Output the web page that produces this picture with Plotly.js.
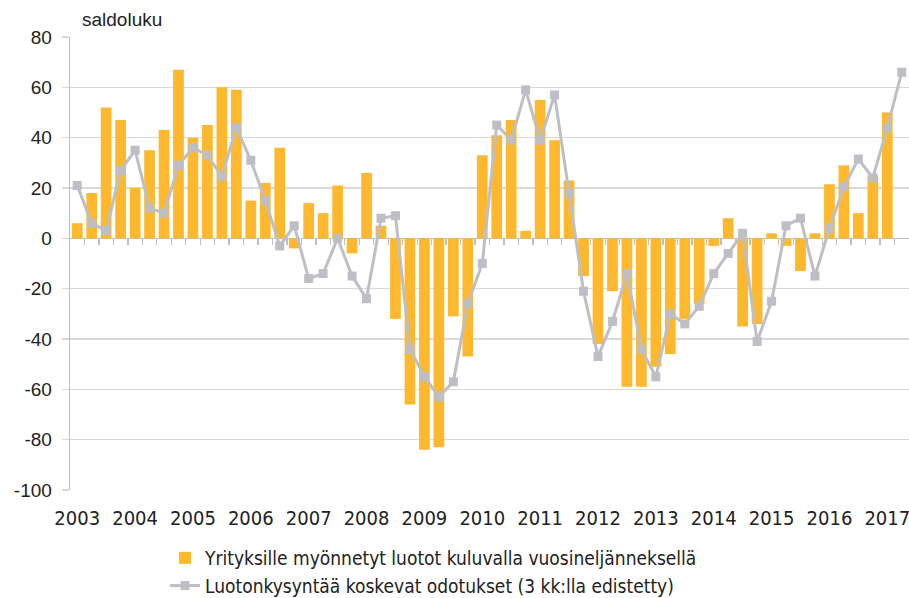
<!DOCTYPE html>
<html>
<head>
<meta charset="utf-8">
<script src="https://cdn.plot.ly/plotly-3.0.1.min.js"></script>
<style>html,body{margin:0;padding:0;background:#fff}#chart{width:909px;height:598px}</style>
</head>
<body>
<div id="chart"></div>
<script>
const quarters = [
 '2003Q1','2003Q2','2003Q3','2003Q4','2004Q1','2004Q2','2004Q3','2004Q4',
 '2005Q1','2005Q2','2005Q3','2005Q4','2006Q1','2006Q2','2006Q3','2006Q4',
 '2007Q1','2007Q2','2007Q3','2007Q4','2008Q1','2008Q2','2008Q3','2008Q4',
 '2009Q1','2009Q2','2009Q3','2009Q4','2010Q1','2010Q2','2010Q3','2010Q4',
 '2011Q1','2011Q2','2011Q3','2011Q4','2012Q1','2012Q2','2012Q3','2012Q4',
 '2013Q1','2013Q2','2013Q3','2013Q4','2014Q1','2014Q2','2014Q3','2014Q4',
 '2015Q1','2015Q2','2015Q3','2015Q4','2016Q1','2016Q2','2016Q3','2016Q4',
 '2017Q1','2017Q2'
];
const years = ['2003','2004','2005','2006','2007','2008','2009','2010','2011','2012','2013','2014','2015','2016','2017'];
const yTicks = [80, 60, 40, 20, 0, -20, -40, -60, -80, -100];

// Yrityksille myönnetyt luotot kuluvalla vuosineljänneksellä (2003Q1–2017Q1)
const loansGranted = [
  6, 18, 52, 47,
  20, 35, 43, 67,
  40, 45, 60, 59,
  15, 22, 36, -4,
  14, 10, 21, -6,
  26, 5, -32, -66,
  -84, -83, -31, -47,
  33, 41, 47, 3,
  55, 39, 23, -15,
  -42, -21, -59, -59,
  -51, -46, -32, -26,
  -3, 8, -35, -34,
  2, -3, -13, 2,
  21.5, 29, 10, 25,
  50
];
// Luotonkysyntää koskevat odotukset (3 kk:lla edistetty) (2003Q1–2017Q2)
const demandExpectations = [
  21, 6, 3, 27,
  35, 12, 10, 29,
  36, 33, 24.5, 44,
  31, 15, -3, 5,
  -16, -14, 0, -15,
  -24, 8, 9, -44,
  -55, -63, -57, -26,
  -10, 45, 39, 59,
  39, 57, 18, -21,
  -47, -33, -14, -44,
  -55, -30, -34, -27,
  -14, -6, 2, -41,
  -25, 5, 8, -15,
  4, 20.5, 31.5, 24,
  44, 66
];

const barName = 'Yrityksille myönnetyt luotot kuluvalla vuosineljänneksellä';
const lineName = 'Luotonkysyntää koskevat odotukset (3 kk:lla edistetty)';

const condensed = '"DejaVu Sans Condensed", "DejaVu Sans", sans-serif';
const arial = '"Liberation Sans", Arial, sans-serif';
const gridColor = '#D9D9D9';
const axisColor = '#BFBFBF';

const traces = [
  {
    type: 'bar', name: barName,
    x: quarters.slice(0, loansGranted.length), y: loansGranted,
    marker: {color: '#FDB82E'}
  },
  {
    type: 'scatter', mode: 'lines+markers', name: lineName,
    x: quarters.slice(0, demandExpectations.length), y: demandExpectations,
    line: {color: '#BEBEC5', width: 3},
    marker: {symbol: 'square', size: 9, color: '#BEBEC5'}
  },
  {
    type: 'scatter', x: [], y: [], xaxis: 'x2', showlegend: false, hoverinfo: 'skip'
  }
];

const n = quarters.length;
const boundaries = quarters.slice(0, n - 1).map((q, i) => i + 0.5);
const yMin = yTicks[yTicks.length - 1], yMax = yTicks[0];

const layout = {
  width: 909, height: 598,
  margin: {l: 70, r: 0, t: 37, b: 108, autoexpand: false},
  paper_bgcolor: '#fff', plot_bgcolor: '#fff',
  showlegend: true,
  bargap: 0.26,
  title: {
    text: 'saldoluku',
    x: 82 / 909, xanchor: 'left', xref: 'container',
    y: 1 - 19 / 598, yanchor: 'middle', yref: 'container',
    font: {family: arial, size: 19, color: '#222'}
  },
  xaxis: {
    type: 'category',
    range: [-0.5, n - 0.5],
    tickvals: years.map(y => y + 'Q1'),
    ticktext: years,
    ticks: '', showgrid: false, zeroline: false, showline: false,
    tickfont: {family: condensed, size: 20, color: '#222'},
    tickangle: 0, automargin: false,
    ticklabelstandoff: 14,
    fixedrange: true
  },
  xaxis2: {
    type: 'linear', overlaying: 'x', anchor: 'free',
    position: (0 - yMin) / (yMax - yMin),
    range: [-0.5, n - 0.5],
    tickmode: 'array', tickvals: boundaries,
    ticks: 'outside', ticklen: 6, tickwidth: 1.3, tickcolor: axisColor,
    showticklabels: false, showgrid: false, zeroline: false, showline: false,
    automargin: false
  },
  yaxis: {
    range: [yMin, yMax],
    tickmode: 'array', tickvals: yTicks, ticktext: yTicks.map(v => String(v)),
    ticks: 'outside', ticklen: 7, tickwidth: 1.3, tickcolor: gridColor,
    showgrid: true, gridcolor: gridColor, gridwidth: 1.3,
    zeroline: true, zerolinecolor: axisColor, zerolinewidth: 1.5,
    showline: true, linecolor: axisColor, linewidth: 1.3,
    tickfont: {family: arial, size: 19, color: '#222'},
    ticklabelstandoff: 6, automargin: false,
    fixedrange: true
  },
  legend: {
    orientation: 'v',
    x: 165 / 909, xref: 'container', xanchor: 'left',
    y: 1 - 539 / 598, yref: 'container', yanchor: 'top',
    font: {family: condensed, size: 19, color: '#222'},
    traceorder: 'normal',
    itemwidth: 30,
    bgcolor: 'rgba(0,0,0,0)'
  }
};

Plotly.newPlot('chart', traces, layout, {displayModeBar: false, staticPlot: true});
</script>
</body>
</html>
